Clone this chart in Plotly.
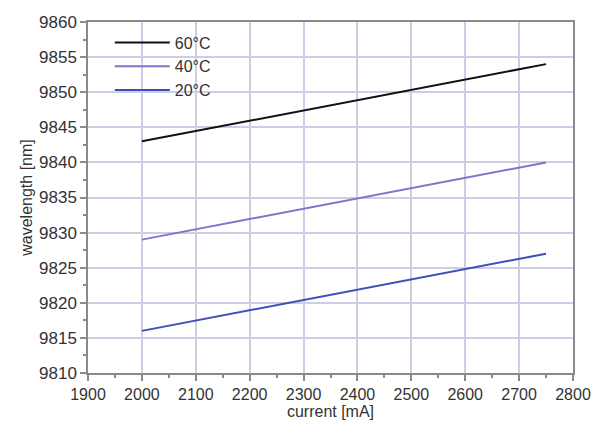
import plotly.graph_objects as go

current = [2000, 2750]
series_names = ["60°C", "40°C", "20°C"]
wl_60 = [9843, 9854]
wl_40 = [9829, 9840]
wl_20 = [9816, 9827]
x_ticks = [1900, 2000, 2100, 2200, 2300, 2400, 2500, 2600, 2700, 2800]
y_ticks = [9810, 9815, 9820, 9825, 9830, 9835, 9840, 9845, 9850, 9855, 9860]

colors = ["#111111", "#7b78cc", "#3f4fb8"]
FONT = "Liberation Sans, Arial, sans-serif"

fig = go.Figure()
for name, ys, c in zip(series_names, [wl_60, wl_40, wl_20], colors):
    fig.add_trace(go.Scatter(x=current, y=ys, mode="lines", name=name,
                             line=dict(color=c, width=2)))

axis_common = dict(
    showgrid=True, gridcolor="#cdcde3", gridwidth=1.5,
    showline=True, linecolor="#8a8a8a", linewidth=1.5, mirror=True,
    ticks="outside", ticklen=6, tickcolor="#8a8a8a", tickwidth=1.5,
    tickformat="d",
    zeroline=False,
    automargin=False,
    ticklabeloverflow="allow",
)

fig.update_xaxes(range=[1900, 2800], tickvals=x_ticks,
                 tickfont=dict(size=16, color="#333333", family=FONT),
                 minor=dict(dtick=50, ticks="outside", ticklen=3, tickcolor="#8a8a8a", showgrid=False),
                 title=dict(text="current [mA]", standoff=0,
                            font=dict(size=16, color="#333333", family=FONT)),
                 **axis_common)
fig.update_yaxes(range=[9810, 9860], tickvals=y_ticks,
                 tickfont=dict(size=17, color="#333333", family=FONT),
                 minor=dict(dtick=2.5, ticks="outside", ticklen=3, tickcolor="#8a8a8a", showgrid=False),
                 title=dict(text="wavelength [nm]", standoff=2,
                            font=dict(size=16, color="#333333", family=FONT)),
                 **axis_common)

# page body has an 8px margin, so the figure is offset by 8px
fig.update_layout(
    width=601, height=417,
    margin=dict(l=80, r=36, t=14, b=52),
    paper_bgcolor="white", plot_bgcolor="white",
    showlegend=True,
    legend=dict(x=0.045, y=0.99, xanchor="left", yanchor="top",
                bgcolor="rgba(255,255,255,0)", tracegroupgap=0, itemwidth=55,
                font=dict(size=16, color="#333333", family=FONT)),
)

fig.write_html("out.html")
